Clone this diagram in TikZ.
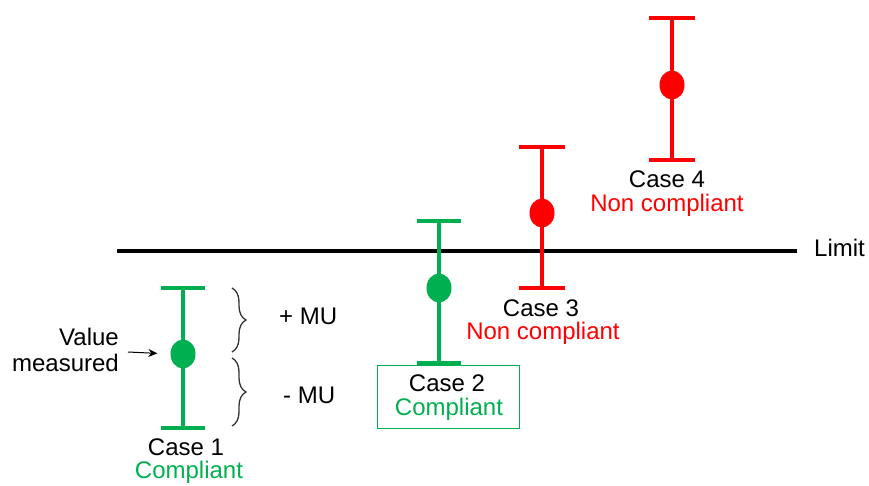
\documentclass[tikz,border=0pt]{standalone}
\usepackage{fontspec}
\setmainfont{Liberation Sans}
\usetikzlibrary{decorations.pathreplacing,arrows.meta,shapes.geometric}
\definecolor{okgreen}{RGB}{0,176,80}
\definecolor{badred}{RGB}{255,0,0}
\begin{document}
\begin{tikzpicture}[x=1pt,y=-1pt,
  bar/.style={line width=3.8pt},
  dot/.style={ellipse,minimum width=25pt,minimum height=29pt,inner sep=0pt,fill=#1,draw=none},
  lbl/.style={font=\fontsize{24}{26}\selectfont,inner sep=0pt},
  br/.style={decorate,decoration={brace,amplitude=14pt,raise=0pt},line width=1.3pt,black!80}]
\useasboundingbox (0,0) rectangle (869,486);
% Limit
\coordinate (L1) at (117,251);
\coordinate (L2) at (797,251);
\draw[line width=4pt] (L1) -- (L2);
\node[lbl,anchor=west] (limit) at (814,248) {Limit};
% Case 1
\coordinate (c1t) at (183,288); \coordinate (c1b) at (183,428);
\draw[bar,okgreen] (c1t) -- (c1b);
\draw[bar,okgreen] ([xshift=-22pt]c1t) -- ([xshift=22pt]c1t);
\draw[bar,okgreen] ([xshift=-22pt]c1b) -- ([xshift=22pt]c1b);
\node[dot=okgreen] (d1) at (183,354) {};
\node[lbl] (case1) at (186,447) {Case 1};
\node[lbl,text=okgreen] (comp1) at (189,472) {Compliant};
\node[lbl,align=right,anchor=east] (val) at (119,350) {Value\\measured};
\coordinate (va) at (128,352);
\draw[-{Stealth[length=9pt,width=8pt]},line width=1pt,shorten >=13pt] (va) -- (d1.west);
\coordinate (b1a) at (232,288); \coordinate (b1b) at (232,352);
\coordinate (b2a) at (232,358); \coordinate (b2b) at (232,426);
\draw[br] (b1a) -- (b1b);
\draw[br] (b2a) -- (b2b);
\node[lbl,anchor=west] (pmu) at (279,316) {+ MU};
\node[lbl,anchor=west] (mmu) at (283,395) {- MU};
% Case 2
\coordinate (c2t) at (439,221); \coordinate (c2b) at (439,363);
\draw[bar,okgreen] (c2t) -- (c2b);
\draw[bar,okgreen] ([xshift=-22pt]c2t) -- ([xshift=22pt]c2t);
\draw[bar,okgreen] ([xshift=-22pt]c2b) -- ([xshift=22pt]c2b);
\node[dot=okgreen] (d2) at (439,288) {};
\node[draw=okgreen,line width=1pt,minimum width=142pt,minimum height=63pt] (box2) at (448,397) {};
\node[lbl] (case2) at (447,383) {Case 2};
\node[lbl,text=okgreen] (comp2) at (449,409) {Compliant};
% Case 3
\coordinate (c3t) at (542,147); \coordinate (c3b) at (542,288);
\draw[bar,badred] (c3t) -- (c3b);
\draw[bar,badred] ([xshift=-23pt]c3t) -- ([xshift=23pt]c3t);
\draw[bar,badred] ([xshift=-23pt]c3b) -- ([xshift=23pt]c3b);
\node[dot=badred] (d3) at (542,213) {};
\node[lbl] (case3) at (541,308) {Case 3};
\node[lbl,text=badred] (nc3) at (543,333) {Non compliant};
% Case 4
\coordinate (c4t) at (672,18); \coordinate (c4b) at (672,160);
\draw[bar,badred] (c4t) -- (c4b);
\draw[bar,badred] ([xshift=-23pt]c4t) -- ([xshift=23pt]c4t);
\draw[bar,badred] ([xshift=-23pt]c4b) -- ([xshift=23pt]c4b);
\node[dot=badred] (d4) at (672,85) {};
\node[lbl] (case4) at (667,179) {Case 4};
\node[lbl,text=badred] (nc4) at (667,205) {Non compliant};
\end{tikzpicture}
\end{document}
